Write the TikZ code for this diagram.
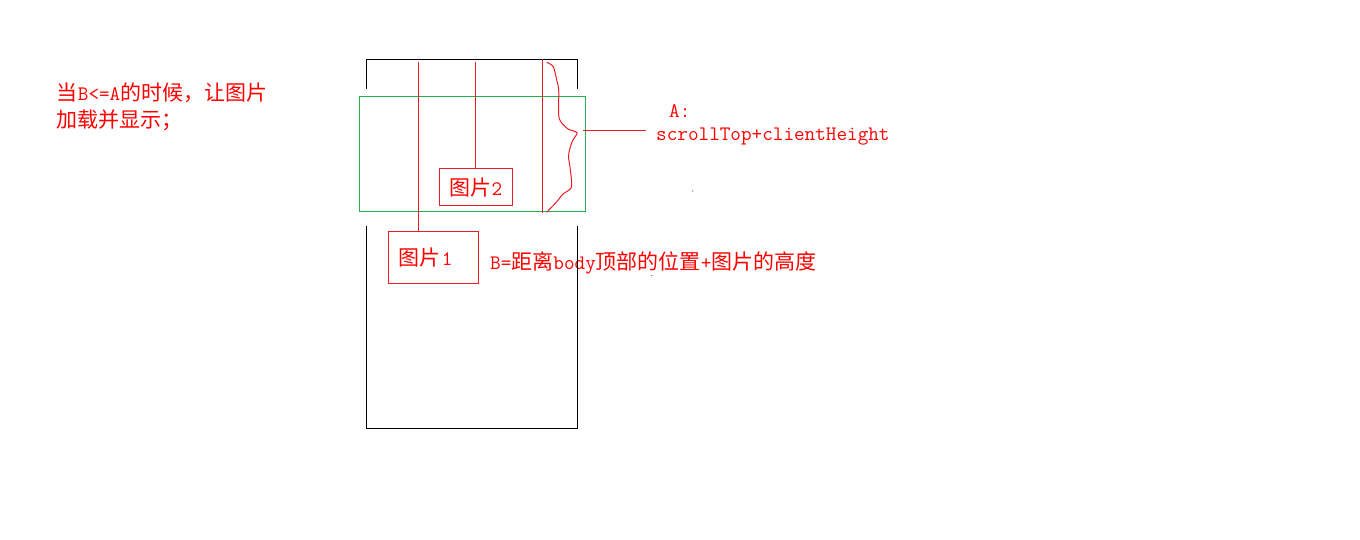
\documentclass[tikz,border=0pt]{standalone}
\usepackage{fontspec}
\usepackage{tikz}
\newfontfamily\cjk{Noto Sans CJK SC}
\newfontfamily\mono{Latin Modern Mono}
\newcommand{\zh}[1]{{\cjk\fontsize{21}{27}\selectfont #1}}
\newcommand{\en}[1]{{\mono\fontsize{20.6}{27}\selectfont #1}}
\definecolor{paintred}{RGB}{237,28,36}
\definecolor{paintgreen}{RGB}{34,177,76}

\begin{document}
\begin{tikzpicture}[x=1pt,y=-1pt,
    redline/.style={paintred,line width=1pt},
    picbox/.style={draw=paintred,text=red,line width=1pt,inner sep=0pt},
    note/.style={text=red,inner sep=0pt,anchor=west}]
        \useasboundingbox (0,0) rectangle (1360,540);
        % the rule, at the left
        \node[note] (rule1) at (56.7,93) {\zh{当}\en{B<=A}\zh{的时候，让图片}};
        \node[note] (rule2) at (56.7,120) {\zh{加载并显示；}};
        % labels
        \node[note] (labB) at (490,263) {\en{B=}\zh{距离}\en{body}\zh{顶部的位置}\en{+}\zh{图片的高度}};
        \node[note] (labA) at (669,111) {\en{A:}};
        \node[note] (labAsum) at (656,137) {\en{scrollTop+clientHeight}};
        % the page
        \draw[line width=1pt] (366,89)--(366,60)--(577,60)--(577,89);
        \draw[line width=1pt] (366,226)--(366,428)--(577,428)--(577,226);
        % the visible window
        \draw[paintgreen,line width=1pt] (359.3,96.3) rectangle (585.7,211.3);
        % the pictures
        \node[picbox,minimum width=73pt,minimum height=37pt] (pic2) at (475.8,187.5) {\zh{图片}\en{2}};
        \node[picbox,minimum width=90pt,minimum height=52pt] (pic1) at (433.5,257.2) {};
        \node[note] (pic1txt) at (398,258) {\zh{图片}\,\en{1}};
        \coordinate (top1) at (418.3,62);
        \coordinate (top2) at (475.3,62);
        \draw[redline] (top1) -- (top1 |- pic1.north);
        \draw[redline] (top2) -- (top2 |- pic2.north);
        \draw[redline] (542.3,59.3) -- (542.3,212.7);
        \draw[redline] plot[smooth,tension=0.45] coordinates {(546.7,62.3) (553.3,66.7) (556.7,80) (558.7,90)
            (558.7,115) (561,122) (568,129) (577,132.7) (573,140) (570,148) (568.5,157) (570,167)
            (571.5,187) (563,194) (556.5,202) (546.7,212.3)};
        \coordinate (peak) at (583.3,131);
        \coordinate (toA) at (646,131);
        \draw[redline] (peak) -- (toA);
        % specks
        \fill[paintred] (692.7,191) circle (0.6);
        \fill[paintred] (651.7,275.5) circle (0.6);
\end{tikzpicture}
\end{document}
